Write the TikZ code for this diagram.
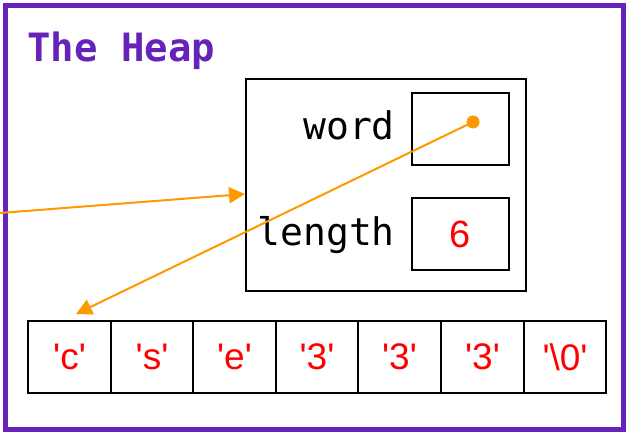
\documentclass[tikz,border=0pt]{standalone}
\usepackage{fontspec}
\setmainfont{Liberation Sans}
\newfontfamily\monofont{DejaVu Sans Mono}
\usetikzlibrary{arrows.meta,calc}
\definecolor{heappurple}{RGB}{103,35,185}
\definecolor{ptrorange}{RGB}{255,153,0}
\tikzset{
  box/.style={draw=black, line width=2pt, anchor=north west, inner sep=0pt},
  fieldlabel/.style={anchor=base east, inner sep=0pt, font=\monofont\fontsize{38}{38}\selectfont},
  valtext/.style={text=red, font=\fontsize{38}{38}\selectfont},
  cell/.style={draw=black, line width=2pt, minimum height=72pt, anchor=north west, inner sep=0pt, text=red, font=\fontsize{37}{37}\selectfont},
  ptr/.style={draw=ptrorange, line width=2pt, -{Triangle[length=16pt,width=16pt]}}
}
\newcommand{\sq}{\textquotesingle}
\begin{document}
\begin{tikzpicture}[x=1pt,y=-1pt]
\useasboundingbox (0,0) rectangle (629,435);
\draw[heappurple, line width=5pt] (5.5,5.5) rectangle (623.5,429.5);
\node[anchor=base west, text=heappurple, inner sep=0pt, font=\monofont\bfseries\fontsize{39}{39}\selectfont] (title) at (27,62) {The Heap};
% struct
\node[box, minimum width=280pt, minimum height=212pt] (struct) at (245,78) {};
\node[box, minimum width=97pt, minimum height=72pt] (wordbox) at (411,92) {};
\node[box, minimum width=97pt, minimum height=72pt] (lenbox) at (411,197) {};
\node[fieldlabel] (wordlbl) at (395,140) {word};
\node[fieldlabel] (lenlbl) at (395,246) {length};
\node[valtext] (six) at (lenbox.center) {6};
% array
\foreach \x/\w/\ch [count=\i from 0] in {27/83/\sq c\sq, 110/82/\sq s\sq, 192/83/\sq e\sq, 275/82/\sq 3\sq, 357/83/\sq 3\sq, 440/83/\sq 3\sq, 523/82/\sq\textbackslash 0\sq}{
  \node[cell, minimum width=\w pt] (c\i) at (\x,320) {\ch};
}
% pointers
\coordinate (dot) at (473,122);
\coordinate (src) at (0,213);
\coordinate (structin) at ($(struct.north west)+(0,116)$);
\coordinate (arrin) at ($(c0.north west)+(49,-6)$);
\draw[ptr] (src) -- (structin);
\draw[ptr] (dot) -- (arrin);
\fill[ptrorange] (dot) circle (6.5pt);
\end{tikzpicture}
\end{document}
